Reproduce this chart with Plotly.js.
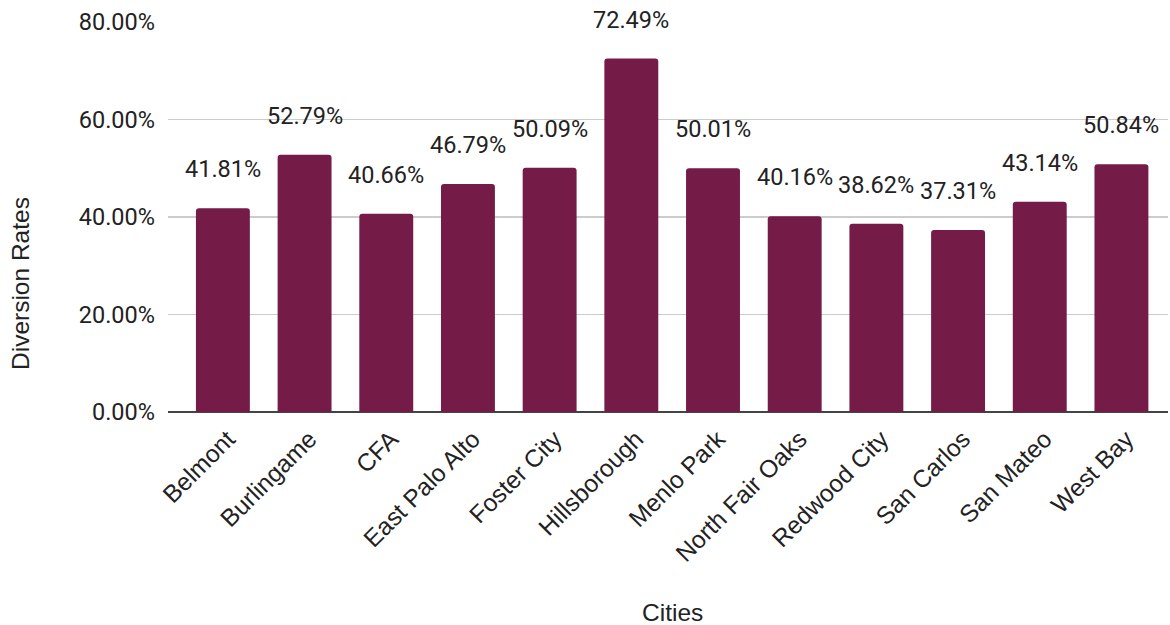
<!DOCTYPE html>
<html>
<head>
<meta charset="utf-8">
<script src="https://cdn.plot.ly/plotly-3.0.1.min.js"></script>
<style>html,body{margin:0;padding:0;background:#fff;}#chart{width:1170px;height:625px;}</style>
</head>
<body>
<div id="chart"></div>
<script>
const cities = ["Belmont","Burlingame","CFA","East Palo Alto","Foster City","Hillsborough","Menlo Park","North Fair Oaks","Redwood City","San Carlos","San Mateo","West Bay"];
const diversionRates = [0.4181,0.5279,0.4066,0.4679,0.5009,0.7249,0.5001,0.4016,0.3862,0.3731,0.4314,0.5084];
const yTickVals = [0,0.2,0.4,0.6,0.8];
const yTickText = ["0.00%","20.00%","40.00%","60.00%","80.00%"];

const FONT = "Roboto, 'Liberation Sans', Arial, sans-serif";
const FONT2 = "'Liberation Sans', Arial, sans-serif";
const labelAnnotations = cities.map((c, i) => ({
  x: c, y: diversionRates[i], xref: 'x', yref: 'y',
  text: (diversionRates[i]*100).toFixed(2) + '%',
  showarrow: false, yanchor: 'middle', xanchor: 'center', yshift: 39,
  font: {family: FONT, size: 23.5, color: '#222222'}
}));

const trace = {
  type: 'bar', x: cities, y: diversionRates,
  marker: {color: '#741b47'},
  hoverinfo: 'x+y'
};

const layout = {
  width: 1170, height: 625,
  margin: {l: 168, r: 2, t: 22, b: 213},
  paper_bgcolor: '#ffffff', plot_bgcolor: '#ffffff',
  bargap: 0.34,
  barcornerradius: 3,
  showlegend: false,
  font: {family: FONT, color: '#222222'},
  xaxis: {
    type: 'category',
    range: [-0.672, 11.57],
    tickangle: -45,
    tickfont: {family: FONT2, size: 24.5, color: '#222222'},
    showgrid: false, ticks: '', showline: false, zeroline: false,
    ticklabelstandoff: 7, ticklabelshift: 5
  },
  yaxis: {
    range: [0, 0.8],
    tickvals: yTickVals, ticktext: yTickText,
    tickfont: {family: FONT, size: 23.5, color: '#222222'},
    showgrid: true, gridcolor: '#cccccc', gridwidth: 1.3,
    zeroline: true, zerolinecolor: '#444444', zerolinewidth: 2,
    ticks: '', ticklabelstandoff: 12, showline: false
  },
  annotations: labelAnnotations.concat([
    {text: 'Diversion Rates', xref: 'paper', yref: 'paper', x: -168/1000, y: (625-213-284)/390,
     xanchor: 'center', yanchor: 'middle', xshift: 20, textangle: -90, showarrow: false,
     font: {family: FONT2, size: 24.5, color: '#222222'}},
    {text: 'Cities', xref: 'paper', yref: 'paper', x: (672-168)/1000, y: 0, yshift: -(612-412),
     xanchor: 'center', yanchor: 'middle', showarrow: false,
     font: {family: FONT2, size: 24.5, color: '#222222'}}
  ])
};

Plotly.newPlot('chart', [trace], layout, {displayModeBar: false, staticPlot: true});
</script>
</body>
</html>
